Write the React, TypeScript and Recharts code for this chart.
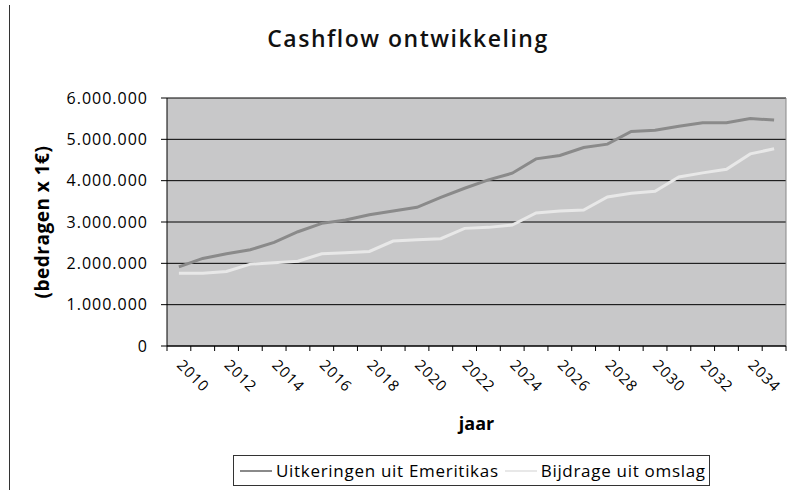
import React from 'react';
import { LineChart, Line, XAxis, YAxis, CartesianGrid, Legend, Label, ReferenceLine } from 'recharts';

const years = [
  2010, 2011, 2012, 2013, 2014, 2015, 2016, 2017, 2018, 2019, 2020, 2021, 2022,
  2023, 2024, 2025, 2026, 2027, 2028, 2029, 2030, 2031, 2032, 2033, 2034, 2035,
];

const uitkeringen = [
  1916000, 2118000, 2231000, 2328000, 2506000, 2765000, 2967000, 3048000, 3177000, 3266000, 3355000, 3597000, 3816000,
  4018000, 4180000, 4527000, 4608000, 4802000, 4883000, 5190000, 5222000, 5319000, 5400000, 5400000, 5505000, 5465000,
];

const bijdrage = [
  1762000, 1762000, 1803000, 1981000, 2013000, 2053000, 2231000, 2255000, 2288000, 2538000, 2571000, 2595000, 2846000,
  2870000, 2926000, 3217000, 3266000, 3290000, 3606000, 3694000, 3743000, 4090000, 4188000, 4276000, 4648000, 4770000,
];

const yTicks = [0, 1000000, 2000000, 3000000, 4000000, 5000000, 6000000];

const seriesOrder = ['uitkeringen', 'bijdrage'];

// one row per year, placed in the middle of its band
const data = years.map((year, i) => ({
  x: i + 0.5,
  year,
  uitkeringen: uitkeringen[i],
  bijdrage: bijdrage[i],
}));

// boundaries get a tick mark, every other band centre gets a label
const boundaryTicks = years.map((_, i) => i).concat([years.length]);
const labelTicks = years.map((_, i) => i + 0.5).filter((_, i) => i % 2 === 0);
const xTicks = [...boundaryTicks, ...labelTicks].sort((a, b) => a - b);

const font = '"Open Sans", sans-serif';

const fmt = (v: number) => String(v).replace(/\B(?=(\d{3})+(?!\d))/g, '.');

const XTick = (props: any) => {
  const { x, y, payload } = props;
  const v = payload.value;
  if (Number.isInteger(v)) {
    return <line x1={x} x2={x} y1={y} y2={y + 5} stroke="#000" />;
  }
  const tx = x - 3;
  const ty = y + 20;
  return (
    <text
      x={tx}
      y={ty}
      transform={`rotate(45, ${tx}, ${ty})`}
      textAnchor="start"
      fontSize={15}
      fontFamily={font}
      letterSpacing={1}
      fill="#000"
    >
      {years[Math.floor(v)]}
    </text>
  );
};

const renderLegend = (props: any) => {
  const payload = [...props.payload].sort(
    (a: any, b: any) => seriesOrder.indexOf(a.dataKey) - seriesOrder.indexOf(b.dataKey)
  );
  return (
    <div
      style={{
        border: '1px solid #333',
        display: 'flex',
        alignItems: 'center',
        height: 31,
        boxSizing: 'border-box',
        padding: '0 6px',
        fontFamily: font,
        fontSize: 17,
        background: '#fff',
      }}
    >
      {payload.map((p: any, i: number) => (
        <div key={i} style={{ display: 'flex', alignItems: 'center', marginRight: i === 0 ? 6 : 0 }}>
          <div style={{ width: 32, height: 2, background: p.color, marginRight: 4 }} />
          <span style={{ whiteSpace: 'nowrap', letterSpacing: 0.7 }}>{p.value}</span>
        </div>
      ))}
    </div>
  );
};

const App: React.FC = () => {
  return (
    <div style={{ position: 'absolute', left: 0, top: 0, width: 798, height: 491, background: '#fff' }}>
      <div style={{ position: 'absolute', left: 9, top: 5, width: 1, height: 485, background: '#333' }} />
      <div
        style={{
          position: 'absolute',
          left: 18,
          top: 22,
          width: 780,
          textAlign: 'center',
          fontFamily: font,
          fontSize: 23,
          fontWeight: 600,
          letterSpacing: 1.5,
          color: '#111',
        }}
      >
        Cashflow ontwikkeling
      </div>
      <LineChart width={798} height={491} data={data} margin={{ top: 98, right: 12, left: 0, bottom: 55 }}>
        <CartesianGrid vertical={false} stroke="#000" fill="#c8c8c9" fillOpacity={1} />
        <XAxis
          dataKey="x"
          type="number"
          domain={[0, years.length]}
          ticks={xTicks}
          interval={0}
          tick={<XTick />}
          tickLine={false}
          tickSize={0}
          tickMargin={0}
          axisLine={{ stroke: '#000' }}
          height={90}
        >
          <Label
            value="jaar"
            position="insideBottom"
            offset={6}
            style={{ fontFamily: font, fontSize: 18, fontWeight: 700, fill: '#000' }}
          />
        </XAxis>
        <YAxis
          domain={[0, 6000000]}
          ticks={yTicks}
          tickFormatter={fmt}
          width={167}
          tickSize={6}
          tickMargin={13}
          tick={{ fill: '#000', fontSize: 16, fontFamily: font, letterSpacing: 1 }}
          axisLine={{ stroke: '#000' }}
          tickLine={{ stroke: '#000' }}
        >
          <Label
            value="(bedragen x 1€)"
            angle={-90}
            position="insideLeft"
            offset={42}
            style={{ textAnchor: 'middle', fontFamily: font, fontSize: 19, fontWeight: 700, letterSpacing: 0.5, fill: '#000' }}
          />
        </YAxis>
        <ReferenceLine x={years.length} stroke="#888" />
        <Line
          type="linear"
          dataKey="uitkeringen"
          name="Uitkeringen uit Emeritikas"
          stroke="#8a8a8a"
          strokeWidth={3}
          dot={false}
          isAnimationActive={false}
        />
        <Line
          type="linear"
          dataKey="bijdrage"
          name="Bijdrage uit omslag"
          stroke="#e8e8e8"
          strokeWidth={3}
          dot={false}
          isAnimationActive={false}
        />
        <Legend
          layout="vertical"
          align="center"
          verticalAlign="middle"
          content={renderLegend}
          wrapperStyle={{ left: 233, top: 455, width: 477 }}
        />
      </LineChart>
    </div>
  );
};

export default App;
